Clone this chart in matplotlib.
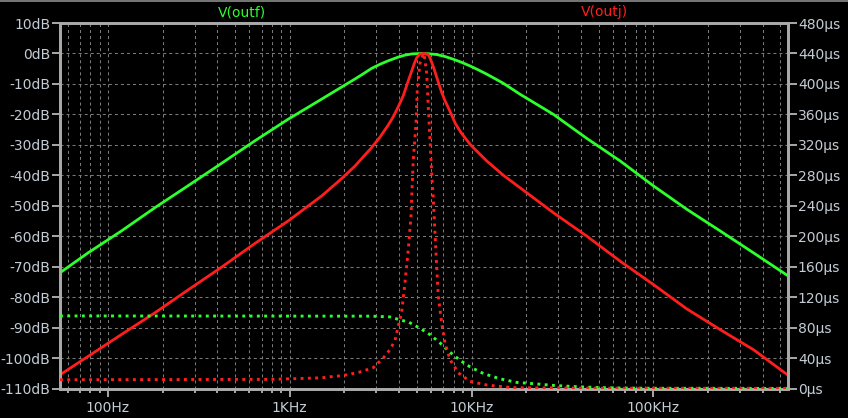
import matplotlib
matplotlib.use("Agg")
import matplotlib.pyplot as plt
from matplotlib.lines import Line2D
from matplotlib.ticker import FixedLocator, LogLocator, NullFormatter

# ---------------- data ----------------
# V(outf) magnitude, dB
outf_mag_freq = [54.5, 77.6, 118.5, 180.7, 274.8, 421.1, 642.5, 979.9, 1497, 2283, 2550,
                 2821, 3150, 3483, 3950, 4303, 4700, 5318, 5800, 6432, 7146, 7941, 8800,
                 9811, 10900, 12127, 14970, 18498, 28215, 43090,
                 65720, 100250, 153100, 233560, 356300, 547000]
outf_mag_db = [-72.0, -65.5, -58.3, -50.7, -43.5, -36.1, -28.7, -21.6, -15.0, -8.4, -6.6,
               -4.9, -3.5, -2.4, -1.2, -0.55, -0.15, 0.0, -0.1, -0.35, -1.0, -1.9, -2.9,
               -4.1, -5.4, -6.8, -9.8, -13.4, -20.0, -27.9,
               -35.3, -43.5, -51.2, -58.3, -65.5, -72.9]

# V(outj) magnitude, dB
outj_mag_freq = [54.5, 77.6, 118.5, 180.7, 274.8, 421.1, 642.5, 979.9, 1497, 1929, 2283,
                 2821, 3134, 3483, 3710, 3952, 4211, 4487, 4685, 4850, 4992, 5204, 5475,
                 5782, 5909, 6100, 6295, 6432, 6853, 7146, 7614, 8145, 8755, 9811, 10230, 12127,
                 14970, 18498, 28215, 43090, 65720, 100250, 153100, 233560, 356300, 547000]
outj_mag_db = [-105.5, -99.5, -92.3, -85.2, -77.7, -70.2, -62.4, -55.0, -46.8, -41.1, -37.0,
               -30.9, -27.5, -23.5, -20.8, -17.5, -13.9, -9.0, -5.8, -3.2, -1.4, -0.2, 0.0,
               -0.4, -1.5, -3.6, -6.0, -7.8, -12.8, -15.5, -19.0, -23.0, -26.0, -29.8, -30.9, -35.3,
               -40.0, -44.1, -52.3, -60.0, -68.2, -75.9, -83.9, -90.7, -97.3, -105.5]

# V(outf) group delay, us
outf_gd_freq = [54.5, 2821, 3558, 3873, 4211, 4527, 5159, 5909, 6707, 7614, 8645, 9811,
                11614, 14354, 17740, 22860, 28215, 34860, 43090, 51013, 65720, 100250, 547000]
outf_gd_us = [95.3, 95.0, 94.0, 91.4, 89.0, 87.0, 79.6, 70.8, 59.9, 47.6, 37.1, 28.4,
              19.7, 12.7, 8.0, 6.0, 4.0, 2.8, 1.8, 1.2, 0.6, 0.3, 0.1]

# V(outj) group delay, us
outj_gd_freq = [54.5, 794, 1497, 1663, 1968, 2432, 2879, 3268, 3558, 3790, 3952, 4127,
                4303, 4487, 4645, 4685, 4781, 4948, 5030, 5204, 5386, 5475, 5545, 5666,
                5782, 5909, 6037, 6160, 6295, 6432, 6564, 6853, 7146, 7614, 8458, 9811,
                12127, 16990, 51013, 547000]
outj_gd_us = [11.5, 12.0, 14.0, 15.3, 17.0, 21.6, 27.3, 40.0, 51.0, 63.0, 81.7, 100.0,
              138.6, 182.0, 226.0, 250.0, 300.0, 348.0, 392.0, 427.0, 437.0, 440.0, 431.0, 414.0,
              370.0, 326.6, 283.0, 250.0, 204.0, 160.0, 121.0, 86.0, 60.0, 38.0, 20.6, 9.4,
              4.6, 1.0, 0.3, 0.2]

db_ticks = list(range(-110, 11, 10))
us_ticks = list(range(0, 481, 40))
x_major = [100, 1000, 10000, 100000]
x_major_labels = ["100Hz", "1KHz", "10KHz", "100KHz"]

# ---------------- style ----------------
GREEN = "#2cff2c"
RED = "#ff1e1e"
AXC = "#a9a9a9"
TXT = "#c3ccd4"
GRIDC = "#7a7a7a"

W, H = 848, 418
fig = plt.figure(figsize=(W / 100, H / 100), dpi=100, facecolor="black")
L, R, T, B = 60, 787.5, 23, 388.5
ax = fig.add_axes([L / W, 1 - B / H, (R - L) / W, (B - T) / H])
ax.set_facecolor("black")
ax.set_xscale("log")
ax.set_xlim(54.5, 547000)
ax.set_ylim(-110, 10)

ax2 = ax.twinx()
ax2.set_ylim(0, 480)
ax2.set_xlim(54.5, 547000)

# grid
dash = (0, (2.9, 2.9))
ax.xaxis.set_major_locator(FixedLocator(x_major))
ax.xaxis.set_minor_locator(LogLocator(base=10, subs=range(2, 10), numticks=50))
ax.xaxis.set_minor_formatter(NullFormatter())
ax.set_xticks(x_major)
ax.set_xticklabels(x_major_labels)
ax.set_yticks(db_ticks)
ax.set_yticklabels([f"{v}dB" for v in db_ticks])
ax2.set_yticks(us_ticks)
ax2.set_yticklabels([f"{v}\u00b5s" for v in us_ticks])

ax.grid(True, which="both", axis="x", color=GRIDC, linestyle=dash, linewidth=0.75)
ax.grid(True, which="major", axis="y", color=GRIDC, linestyle=dash, linewidth=0.75)
ax.set_axisbelow(True)

# curves
ax.plot(outf_mag_freq, outf_mag_db, color=GREEN, linewidth=2.0, zorder=3)
ax.plot(outj_mag_freq, outj_mag_db, color=RED, linewidth=2.0, zorder=3)
dot = (0, (1, 1.5))
ax2.plot(outf_gd_freq, outf_gd_us, color=GREEN, linewidth=2.1, linestyle=dot,
         dash_capstyle="butt", zorder=3)
ax2.plot(outj_gd_freq, outj_gd_us, color=RED, linewidth=2.1, linestyle=dot,
         dash_capstyle="butt", zorder=3)

# spines and ticks
for a in (ax, ax2):
    for s in a.spines.values():
        s.set_color(AXC)
        s.set_linewidth(2.0)

ax.tick_params(axis="y", which="major", direction="out", length=5.8, width=1.4,
               color=AXC, labelcolor=TXT, labelsize=10, pad=1, left=True, right=False)
ax.tick_params(axis="x", which="major", direction="out", length=5.8, width=1.4,
               color=AXC, labelcolor=TXT, labelsize=10, pad=3)
ax.tick_params(axis="x", which="minor", direction="out", length=3.0, width=1.4, color=AXC)
ax2.tick_params(axis="y", which="major", direction="out", length=6.5, width=1.4,
                color=AXC, labelcolor=TXT, labelsize=10, pad=1, right=True, left=False)

# thin frame line along the top edge of the window
fig.add_artist(Line2D([0, 1], [1 - 0.8 / H, 1 - 0.8 / H], transform=fig.transFigure,
                      color="#8c8c8c", linewidth=1.2))

# trace names
fig.text(242 / W, 1 - 12 / H, "V(outf)", color=GREEN, ha="center", va="center", fontsize=10)
fig.text(604 / W, 1 - 12 / H, "V(outj)", color=RED, ha="center", va="center", fontsize=10)

fig.savefig("out.png", dpi=100, facecolor="black")
